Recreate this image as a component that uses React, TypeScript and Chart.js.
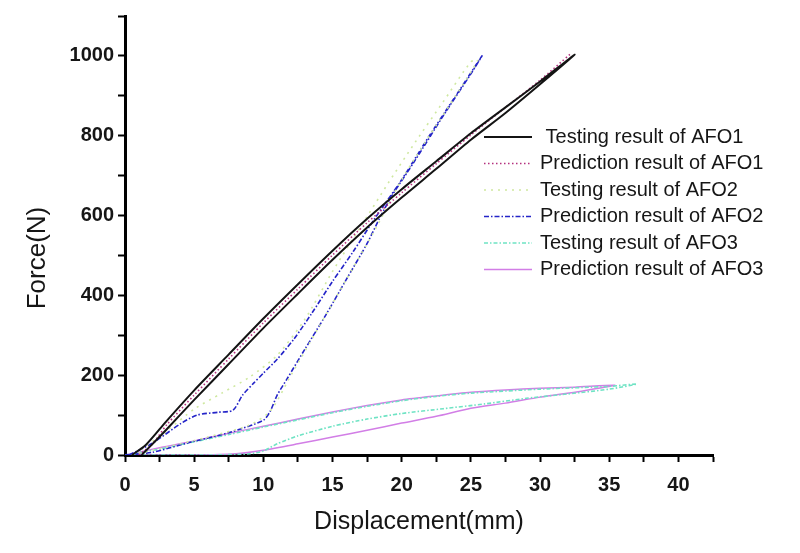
import React, { useEffect, useRef } from "react";
import { Chart, registerables } from "chart.js";

Chart.register(...registerables);

// ---- Data ----
const seriesLabels = [
  " Testing result of AFO1",
  "Prediction result of AFO1",
  "Testing result of AFO2",
  "Prediction result of AFO2",
  "Testing result of AFO3",
  "Prediction result of AFO3",
];

// Testing AFO1 (loading + unloading loop)
const afo1TestX = [0.5, 1.5, 3, 5, 7.5, 10, 12.5, 15, 17.5, 20, 22.5, 25, 27.5, 30, 32.5, 30, 27.5, 25, 22.5, 20, 17.5, 15, 12.5, 10, 7.5, 5, 3, 1.8, 1.2];
const afo1TestY = [0, 25, 85, 162, 252, 342, 428, 512, 592, 666, 736, 806, 871, 936, 1003, 929, 857, 790, 717, 645, 570, 489, 404, 318, 228, 138, 64, 21, 0];

// Prediction AFO1
const afo1PredX = [1, 2, 3, 5, 7.5, 10, 12.5, 15, 17.5, 20, 22.5, 25, 27.5, 30, 32.2];
const afo1PredY = [0, 28, 75, 150, 241, 331, 416, 501, 582, 657, 730, 802, 871, 939, 1005];

// Testing AFO2 (faint)
const afo2TestX = [0.5, 3, 6, 9, 10.5, 12, 14, 16, 18, 20, 22, 24, 25.5, 25, 23, 21, 19, 17, 15, 13, 11, 9, 7, 5, 3, 1];
const afo2TestY = [0, 20, 45, 75, 110, 200, 320, 440, 560, 690, 800, 905, 990, 985, 885, 785, 680, 570, 460, 340, 250, 195, 155, 115, 60, 10];

// Prediction AFO2 (loop)
const afo2PredX = [0, 2, 4.5, 7.6, 10, 10.5, 11, 11.7, 13, 14.5, 16, 17.5, 18.5, 19.3, 21, 23, 25, 25.8, 24, 22, 20, 18, 16.5, 15, 13.5, 12.2, 11, 10, 9.3, 8.5, 7.8, 6.7, 5.2, 4, 2, 0.3];
const afo2PredY = [0, 7, 30, 57, 87, 110, 150, 190, 265, 350, 440, 530, 600, 650, 740, 850, 955, 1000, 905, 800, 690, 590, 510, 435, 355, 290, 240, 205, 180, 150, 112, 107, 100, 78, 30, 0];

// Testing AFO3 (loop)
const afo3TestX = [0, 2.5, 5, 7.6, 10, 12.5, 15, 17.5, 20, 22.5, 25, 30, 35, 37, 35, 32, 29, 26, 23, 20, 17.5, 15, 12.5, 11, 10, 9, 6, 0];
const afo3TestY = [0, 15, 33, 52, 70, 88, 106, 122, 136, 147, 155, 165, 172, 178, 165, 153, 142, 128, 116, 104, 90, 72, 48, 28, 10, 3, 0, 0];

// Prediction AFO3 (loop)
const afo3PredX = [0, 2.5, 5, 7.6, 10, 12.5, 15, 17.5, 20, 22.5, 25, 27.5, 30, 32.5, 35.4, 33, 30, 27.5, 25, 22.5, 20, 17.5, 15, 12.5, 10, 8, 5, 0];
const afo3PredY = [0, 18, 35, 55, 72, 90, 108, 124, 138, 148, 157, 163, 167, 170, 175, 160, 145, 130, 117, 97, 80, 62, 45, 28, 12, 3, 0, 0];

const xTickStep = 2.5;
const yTickStep = 100;

const zip = (xs: number[], ys: number[]) => xs.map((x, i) => ({ x, y: ys[i] }));

const FONT = "'Liberation Sans', Arial, sans-serif";

export default function App() {
  const ref = useRef<HTMLCanvasElement | null>(null);

  useEffect(() => {
    if (!ref.current) return;

    const styles = [
      { color: "#141414", dash: [], width: 2 },
      { color: "#b4307e", dash: [1.5, 2.5], width: 1.6 },
      { color: "#cfe8a0", dash: [2, 5], width: 1.6 },
      { color: "#2424c8", dash: [5, 2, 1.5, 2], width: 1.6 },
      { color: "#6fe3c4", dash: [4, 2, 1.5, 2], width: 1.6 },
      { color: "#d27ee6", dash: [], width: 1.5 },
    ];
    const xs = [afo1TestX, afo1PredX, afo2TestX, afo2PredX, afo3TestX, afo3PredX];
    const ys = [afo1TestY, afo1PredY, afo2TestY, afo2PredY, afo3TestY, afo3PredY];

    const datasets = seriesLabels.map((label, i) => ({
      label,
      data: zip(xs[i], ys[i]),
      borderColor: styles[i].color,
      backgroundColor: styles[i].color,
      borderDash: styles[i].dash,
      borderWidth: styles[i].width,
      showLine: true,
      pointRadius: 0,
      tension: 0.25,
      fill: false,
    }));

    const legendPlugin = {
      id: "insideLegend",
      afterDraw(chart: any) {
        const ctx = chart.ctx;
        ctx.save();
        chart.data.datasets.forEach((ds: any, i: number) => {
          const y = 137 + 26.5 * i;
          ctx.beginPath();
          ctx.setLineDash(ds.borderDash || []);
          ctx.strokeStyle = ds.borderColor;
          ctx.lineWidth = ds.borderWidth;
          ctx.moveTo(484, y);
          ctx.lineTo(532, y);
          ctx.stroke();
          ctx.setLineDash([]);
          ctx.fillStyle = "#161616";
          ctx.font = `20px ${FONT}`;
          ctx.textBaseline = "middle";
          ctx.textAlign = "left";
          ctx.fillText(ds.label, 540, y);
        });
        // y-axis title
        ctx.translate(38, 258);
        ctx.rotate(-Math.PI / 2);
        ctx.font = `26px ${FONT}`;
        ctx.textAlign = "center";
        ctx.textBaseline = "middle";
        ctx.fillStyle = "#161616";
        ctx.fillText("Force(N)", 0, 0);
        ctx.restore();
      },
    };

    const chart = new Chart(ref.current, {
      type: "scatter",
      data: { datasets },
      options: {
        animation: false,
        responsive: false,
        layout: { padding: { left: 0, right: 87, top: 14, bottom: 0 } },
        plugins: { legend: { display: false }, tooltip: { enabled: false } },
        scales: {
          x: {
            type: "linear",
            position: "bottom",
            min: 0,
            max: 42.5,
            border: { display: true, color: "#000", width: 3 },
            grid: { drawOnChartArea: false, drawTicks: true, tickLength: 7, tickWidth: 2, tickColor: "#000" },
            ticks: {
              stepSize: xTickStep,
              autoSkip: false,
              maxRotation: 0,
              padding: 11,
              color: "#161616",
              font: { family: FONT, size: 20, weight: "bold" },
              callback: (v: any) => (Number(v) % 5 === 0 ? String(v) : ""),
            },
            title: {
              display: true,
              text: "Displacement(mm)",
              color: "#161616",
              font: { family: FONT, size: 25 },
              padding: { top: 0, bottom: 16 },
            },
            afterFit: (s: any) => {
              s.height = 98;
            },
          },
          y: {
            type: "linear",
            min: 0,
            max: 1100,
            border: { display: true, color: "#000", width: 3 },
            grid: { drawOnChartArea: false, drawTicks: true, tickLength: 7, tickWidth: 2, tickColor: "#000" },
            ticks: {
              stepSize: yTickStep,
              autoSkip: false,
              padding: 4,
              color: "#161616",
              font: { family: FONT, size: 20, weight: "bold" },
              callback: (v: any) => (Number(v) % 200 === 0 ? String(v) : ""),
            },
            afterFit: (s: any) => {
              s.width = 125;
            },
          },
        },
      } as any,
      plugins: [legendPlugin],
    });

    return () => chart.destroy();
  }, []);

  return (
    <div style={{ position: "fixed", left: 0, top: 0, width: 800, height: 553, background: "#fff" }}>
      <canvas ref={ref} width={800} height={553} />
    </div>
  );
}
